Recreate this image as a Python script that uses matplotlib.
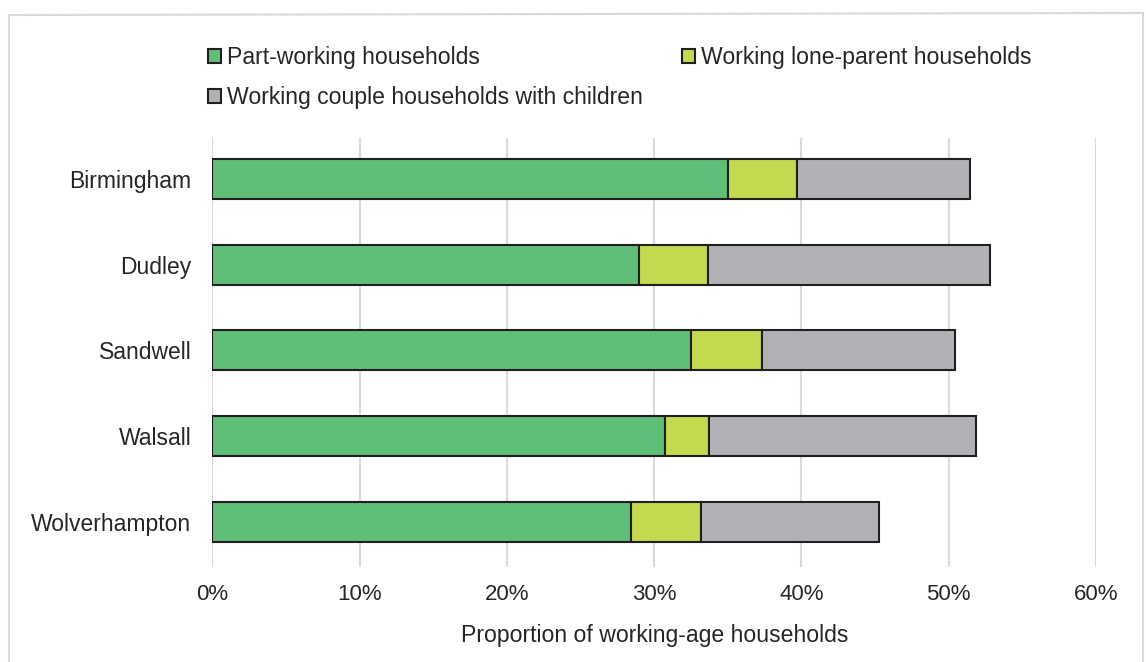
import matplotlib.pyplot as plt
from matplotlib.patches import Patch
from matplotlib.lines import Line2D

plt.rcParams['font.family'] = ['Liberation Sans', 'DejaVu Sans']

# data: share of working-age households (%)
areas = ["Birmingham", "Dudley", "Sandwell", "Walsall", "Wolverhampton"]
part_working = [35.0, 29.0, 32.5, 30.7, 28.4]
lone_parent = [4.7, 4.65, 4.8, 3.05, 4.75]
couple_children = [11.75, 19.15, 13.15, 18.1, 12.1]
xticks = [0, 10, 20, 30, 40, 50, 60]

green = "#5FBE78"
lime = "#C3D950"
grey = "#B1B2B5"
edge = "#231F20"
txt = "#262626"

fig = plt.figure(figsize=(11.46, 6.62), dpi=100)
ax = fig.add_axes([0.1853, 0.1435, 0.7711, 0.648])

y = list(range(len(areas)))
h = 0.467
left2 = [a + b for a, b in zip(part_working, lone_parent)]
ax.barh(y, part_working, height=h, color=green, edgecolor=edge, linewidth=1.5, zorder=3)
ax.barh(y, lone_parent, left=part_working, height=h, color=lime, edgecolor=edge, linewidth=1.5, zorder=3)
ax.barh(y, couple_children, left=left2, height=h, color=grey, edgecolor=edge, linewidth=1.5, zorder=3)

ax.set_xlim(0, 60)
ax.set_ylim(4.53, -0.48)
ax.set_yticks(y)
ax.set_yticklabels(areas, fontsize=16.5, color=txt)
ax.set_xticks(xticks)
ax.set_xticklabels([f"{v}%" for v in xticks], fontsize=16, color=txt)
ax.tick_params(axis='y', length=0, pad=15)
ax.tick_params(axis='x', length=0, pad=12)
ax.set_xlabel("Proportion of working-age households", fontsize=16.6, color=txt, labelpad=14)
for s in ax.spines.values():
    s.set_visible(False)
ax.grid(axis='x', color="#D9D9D9", linewidth=1.5, zorder=0)
ax.set_axisbelow(True)

# legend: two columns, third entry in second column
handles = [Patch(facecolor=green, edgecolor=edge, linewidth=1.5),
           Patch(facecolor=grey, edgecolor=edge, linewidth=1.5),
           Patch(facecolor=lime, edgecolor=edge, linewidth=1.5)]
labels = ["Part-working households", "Working couple households with children",
          "Working lone-parent households"]
leg = fig.legend(handles, labels, ncol=2, loc='upper left',
                 bbox_to_anchor=(208 / 1146, 1 - 46 / 662), frameon=False,
                 fontsize=16.6, handlelength=0.57, handleheight=0.57,
                 handletextpad=0.25, labelspacing=0.74, columnspacing=1.7,
                 borderpad=0, borderaxespad=0)
for t in leg.get_texts():
    t.set_color(txt)

# light outer frame
W, H = 1146, 662
fc = "#D9D9D9"
fig.add_artist(Line2D([9 / W, 9 / W], [0, 1 - 15 / H], transform=fig.transFigure, color=fc, lw=1.5))
fig.add_artist(Line2D([9 / W, 1143 / W], [1 - 15 / H, 1 - 13 / H], transform=fig.transFigure, color=fc, lw=1.5))
fig.add_artist(Line2D([1143 / W, 1143 / W], [0, 1 - 13 / H], transform=fig.transFigure, color=fc, lw=1.5))

fig.savefig("out.png", dpi=100)
